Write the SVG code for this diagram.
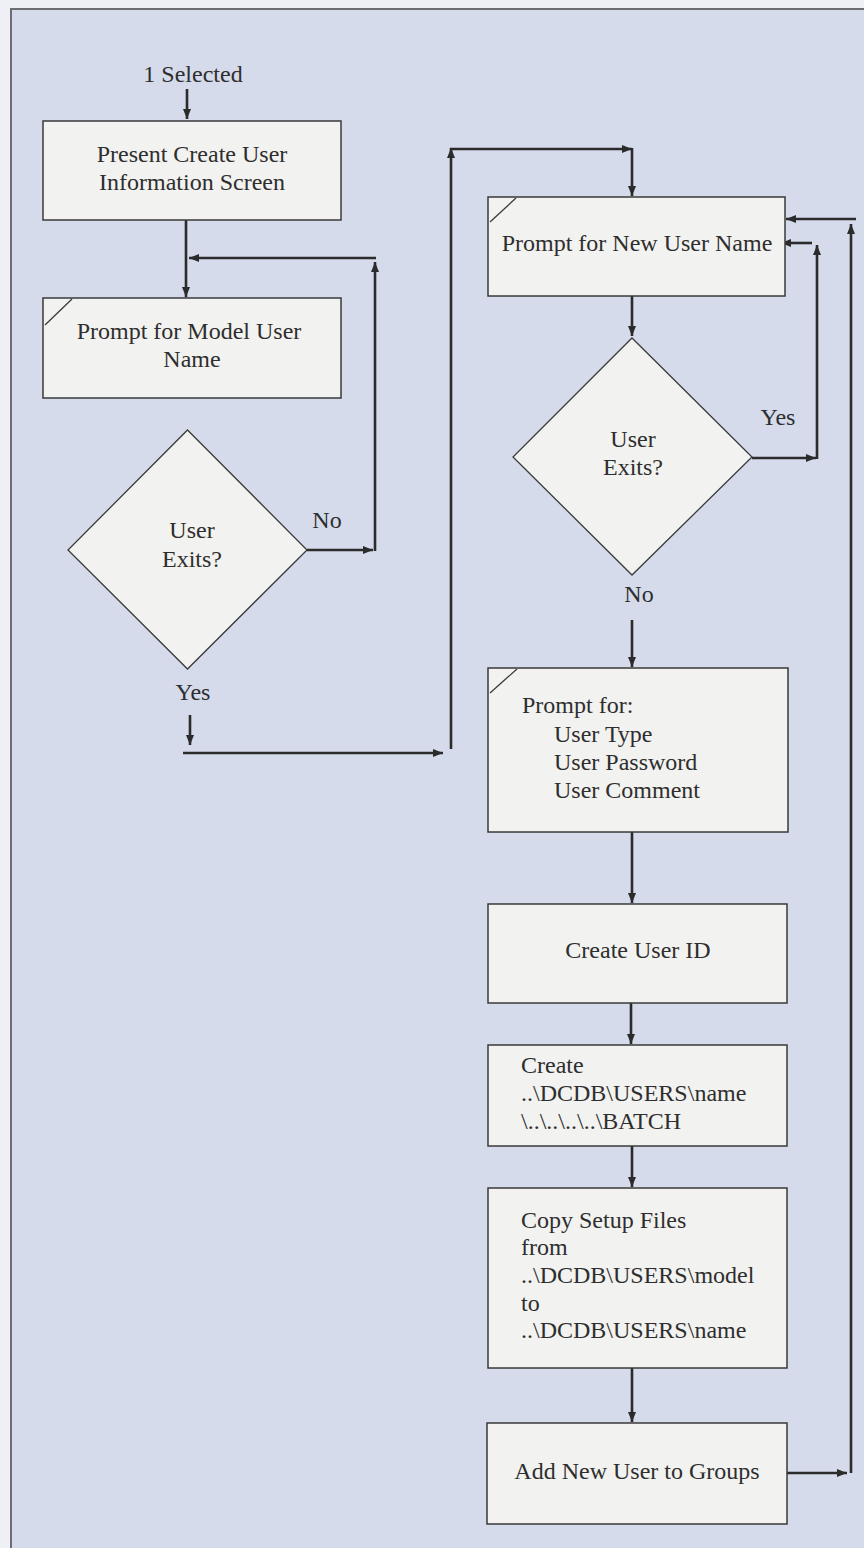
<svg xmlns="http://www.w3.org/2000/svg" width="864" height="1548" viewBox="0 0 864 1548">
  <defs>
    <marker id="arrow" markerUnits="userSpaceOnUse" markerWidth="10" markerHeight="8" refX="10" refY="4" orient="auto">
      <path d="M0,0 L10,4 L0,8 z" fill="#2b2b2b"/>
    </marker>
    <style>
      .page { fill: #d5dbeb; }
      .frame { stroke: #6e6e72; stroke-width: 2; fill: none; }
      .box { fill: #f2f2f0; stroke: #3a3a3a; stroke-width: 1.5; }
      .dia { fill: #f2f2f0; stroke: #3a3a3a; stroke-width: 1.3; }
      .tick { stroke: #3a3a3a; stroke-width: 1.3; fill: none; }
      .conn path { fill: none; stroke: #2b2b2b; stroke-width: 2.6; }
      .conn path.a { marker-end: url(#arrow); }
      text { font-family: "Liberation Serif", "Times New Roman", serif; font-size: 24px; fill: #2e2e2e; }
      .c { text-anchor: middle; }
    </style>
  </defs>

  <!-- page background and frame -->
  <rect class="page" x="0" y="0" width="864" height="1548"/>
  <rect x="0" y="0" width="10" height="1548" fill="#eef0f5"/>
  <rect x="0" y="0" width="864" height="8" fill="#eef0f5"/>
  <path class="frame" d="M11,1548 L11,9 L864,9"/>

  <!-- connectors -->
  <g id="connectors" class="conn">
    <path class="a" d="M187,89 L187,119"/>
    <path class="a" d="M186,220 L186,297"/>
    <path class="a" d="M307,550 L373,550"/>
    <path class="a" d="M375,551 L375,262"/>
    <path class="a" d="M376,258 L189,258"/>
    <path class="a" d="M190,715 L190,745"/>
    <path class="a" d="M183,753 L443,753"/>
    <path class="a" d="M451,749 L451,148"/>
    <path class="a" d="M450,149 L632,149"/>
    <path class="a" d="M632,148 L632,196"/>
    <path class="a" d="M632,296 L632,336"/>
    <path class="a" d="M752,458 L816,458"/>
    <path class="a" d="M817,459 L817,245"/>
    <path class="a" d="M812,243 L781,243"/>
    <path class="a" d="M632,620 L632,667"/>
    <path class="a" d="M632,832 L632,903"/>
    <path class="a" d="M631,1003 L631,1044"/>
    <path class="a" d="M632,1146 L632,1187"/>
    <path class="a" d="M632,1368 L632,1422"/>
    <path class="a" d="M787,1473 L847,1473"/>
    <path class="a" d="M851,1473 L851,224"/>
    <path class="a" d="M856,219 L786,219"/>
  </g>

  <!-- start label -->
  <g id="start">
    <text class="c" x="193" y="82">1 Selected</text>
  </g>

  <g id="present-screen">
    <rect class="box" x="43" y="121" width="298" height="99"/>
    <text class="c" x="192" y="162">Present Create User</text>
    <text class="c" x="192" y="190">Information Screen</text>
  </g>

  <g id="prompt-model">
    <rect class="box" x="43" y="298" width="298" height="100"/>
    <path class="tick" d="M45,325 L72,299"/>
    <text class="c" x="189" y="339">Prompt for Model User</text>
    <text class="c" x="192" y="367">Name</text>
  </g>

  <g id="model-exits">
    <polygon class="dia" points="187.5,430 307,550 187.5,669 68,550"/>
    <text class="c" x="192" y="538">User</text>
    <text class="c" x="192" y="567">Exits?</text>
    <text class="c" x="327" y="528">No</text>
    <text class="c" x="193" y="700">Yes</text>
  </g>

  <g id="prompt-new">
    <rect class="box" x="488" y="197" width="297" height="99"/>
    <path class="tick" d="M490,222 L516,198"/>
    <text class="c" x="637" y="251">Prompt for New User Name</text>
  </g>

  <g id="new-exits">
    <polygon class="dia" points="632,338 752,457 632,575 513,457"/>
    <text class="c" x="633" y="447">User</text>
    <text class="c" x="633" y="475">Exits?</text>
    <text class="c" x="778" y="425">Yes</text>
    <text class="c" x="639" y="602">No</text>
  </g>

  <g id="prompt-details">
    <rect class="box" x="488" y="668" width="300" height="164"/>
    <path class="tick" d="M490,693 L517,669"/>
    <text x="522" y="713">Prompt for:</text>
    <text x="554" y="742">User Type</text>
    <text x="554" y="770">User Password</text>
    <text x="554" y="798">User Comment</text>
  </g>

  <g id="create-id">
    <rect class="box" x="488" y="904" width="299" height="99"/>
    <text class="c" x="638" y="958">Create User ID</text>
  </g>

  <g id="create-dirs">
    <rect class="box" x="488" y="1045" width="299" height="101"/>
    <text x="521" y="1073">Create</text>
    <text x="521" y="1101">..\DCDB\USERS\name</text>
    <text x="521" y="1129">\..\..\..\..\BATCH</text>
  </g>

  <g id="copy-setup">
    <rect class="box" x="488" y="1188" width="299" height="180"/>
    <text x="521" y="1228">Copy Setup Files</text>
    <text x="521" y="1255">from</text>
    <text x="521" y="1283">..\DCDB\USERS\model</text>
    <text x="521" y="1311">to</text>
    <text x="521" y="1338">..\DCDB\USERS\name</text>
  </g>

  <g id="add-groups">
    <rect class="box" x="487" y="1423" width="300" height="101"/>
    <text class="c" x="637" y="1479">Add New User to Groups</text>
  </g>
</svg>
